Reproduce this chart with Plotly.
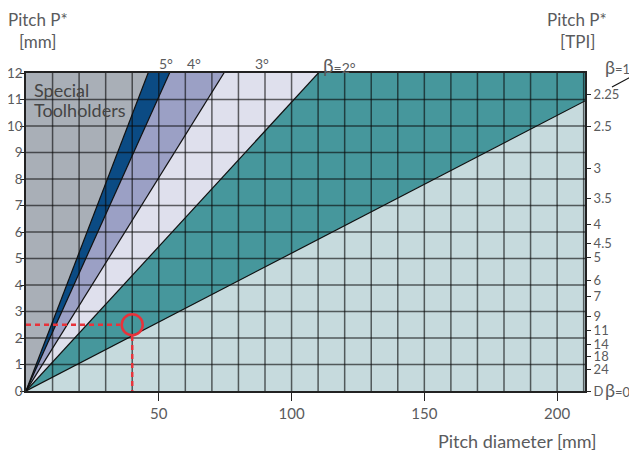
import numpy as np
import plotly.graph_objects as go

# pitch P* [mm] per mm of pitch diameter for each helix-angle boundary line
line_names = ["5°", "4°", "3°", "2°", "1°"]
line_slopes = [0.261, 0.222, 0.161, 0.109, 0.052]
# colour of the band just below each line
band_colors = ["#0b4b84", "#9ba0c5", "#dfe0ed", "#46979c", "#c6dadd"]
above_color = "#a9afb7"  # "Special Toolholders" area

# right axis: TPI labels and the pitch in mm where they sit
tpi_labels = ["2.25", "2.5", "3", "3.5", "4", "4.5", "5", "6", "7", "9", "11", "14", "18", "24", "D"]
tpi_pitch = [11.2, 10.0, 8.4, 7.26, 6.27, 5.57, 5.04, 4.18, 3.57, 2.8, 2.3, 1.76, 1.3, 0.8, 0.0]

# example reading (red)
ex_diameter = 40
ex_pitch = 2.5

X_MAX = 210.5
Y_MAX = 12
grey = "#5a5b5d"
font = "Lato"

fig = go.Figure()

# bands: fill under each line, steepest first
for name, s, c in zip(line_names, line_slopes, band_colors):
    fig.add_trace(go.Scatter(
        x=[0, X_MAX], y=[0, s * X_MAX], mode="lines", fill="tozeroy",
        fillcolor=c, line=dict(color="rgba(0,0,0,0)", width=0),
        hoverinfo="skip", showlegend=False))

# grid on top of the fills
gx, gy = [], []
for v in np.arange(10, X_MAX, 10):
    gx += [v, v, None]
    gy += [0, Y_MAX, None]
for h in np.arange(1, Y_MAX, 1):
    gx += [0, X_MAX, None]
    gy += [h, h, None]
fig.add_trace(go.Scatter(x=gx, y=gy, mode="lines",
                         line=dict(color="rgba(10,10,10,0.62)", width=1.5),
                         hoverinfo="skip", showlegend=False))

# boundary lines
for name, s in zip(line_names, line_slopes):
    fig.add_trace(go.Scatter(x=[0, X_MAX], y=[0, s * X_MAX], mode="lines",
                             line=dict(color="#111111", width=1.2),
                             name=name, showlegend=False))

# red example
red = "#e8323a"
fig.add_trace(go.Scatter(x=[0, ex_diameter - 4.5], y=[ex_pitch, ex_pitch], mode="lines",
                         line=dict(color=red, width=2.5, dash="5px,4px"),
                         showlegend=False, hoverinfo="skip"))
fig.add_trace(go.Scatter(x=[ex_diameter, ex_diameter], y=[ex_pitch - 0.42, 0], mode="lines",
                         line=dict(color=red, width=2.5, dash="5px,4px"),
                         showlegend=False, hoverinfo="skip"))
fig.add_trace(go.Scatter(x=[ex_diameter], y=[ex_pitch], mode="markers",
                         marker=dict(symbol="circle-open", size=21, color=red,
                                     line=dict(width=2.5, color=red)),
                         showlegend=False))

# dummy trace for the right axis
fig.add_trace(go.Scatter(x=[None], y=[None], yaxis="y2", showlegend=False))

tickfont = dict(family=font, size=15, color=grey)
ltickfont = dict(family=font, size=13.5, color=grey)
rtickfont = dict(family=font, size=13, color=grey)
# the page body has an 8px margin, so the figure is 8px smaller than the window
fig.update_layout(
    width=629, height=444,
    margin=dict(l=18, r=52, t=65, b=61),
    paper_bgcolor="white",
    plot_bgcolor=above_color,
    xaxis=dict(range=[0, X_MAX], tickvals=[50, 100, 150, 200], ticks="outside",
               ticklen=8, tickcolor="#222", tickwidth=1.2, showgrid=False, zeroline=False,
               showline=True, linecolor="#222", linewidth=1.5, mirror=True,
               tickfont=tickfont, automargin=False),
    yaxis=dict(range=[0, Y_MAX], dtick=1, ticks="outside", ticklen=4, tickcolor="#222",
               tickwidth=1.2, showgrid=False, zeroline=False, showline=True,
               linecolor="#222", linewidth=1.5, mirror=True, tickfont=ltickfont,
               ticklabelstandoff=-5, automargin=False),
    yaxis2=dict(range=[0, Y_MAX], overlaying="y", side="right", tickvals=tpi_pitch,
                ticktext=tpi_labels, ticks="outside", ticklen=5, tickcolor="#222",
                tickwidth=1.2, showgrid=False, zeroline=False, showline=False,
                tickfont=rtickfont, automargin=False),
)

ann = []
def txt(x, y, t, size=15, xref="paper", yref="paper", xanchor="center", yanchor="middle", color=grey):
    ann.append(dict(x=x, y=y, xref=xref, yref=yref, text=t, showarrow=False,
                    xanchor=xanchor, yanchor=yanchor,
                    font=dict(family=font, size=size, color=color)))

# window pixel positions -> paper coords (plot area spans 26..585, 73..391)
def px(xp):
    return (xp - 26) / 559
def py(yp):
    return (391 - yp) / 318

txt(px(38), py(19), "Pitch P*", 17)
txt(px(37), py(42), "[mm]", 17)
txt(px(577), py(19), "Pitch P*", 17)
txt(px(577), py(42), "[TPI]", 17)
txt(px(517), py(441), "Pitch diameter [mm]", 18)

# special toolholders
txt(px(32), py(90), "Special", 18, xanchor="left", color="#454545")
txt(px(32), py(110), "Toolholders", 18, xanchor="left", color="#454545")

# line labels above the top
txt(px(166), py(63), "5°", 14)
txt(px(194), py(63), "4°", 14)
txt(px(262), py(63), "3°", 14)
txt(px(339), py(65), "<span style='font-size:19px'>β</span>=2°", 14)
txt(px(603), py(67), "<span style='font-size:18px'>β</span>=1°", 13, xanchor="left")
txt(px(603), py(390), "<span style='font-size:18px'>β</span>=0°", 13, xanchor="left")

fig.update_layout(annotations=ann)

# short continuation of the 1° line beyond the right axis
fig.add_shape(type="line", xref="paper", yref="paper",
              x0=px(612), y0=py(87), x1=px(640), y1=py(72),
              line=dict(color="#111111", width=1.2))

fig.write_html("out.html")
